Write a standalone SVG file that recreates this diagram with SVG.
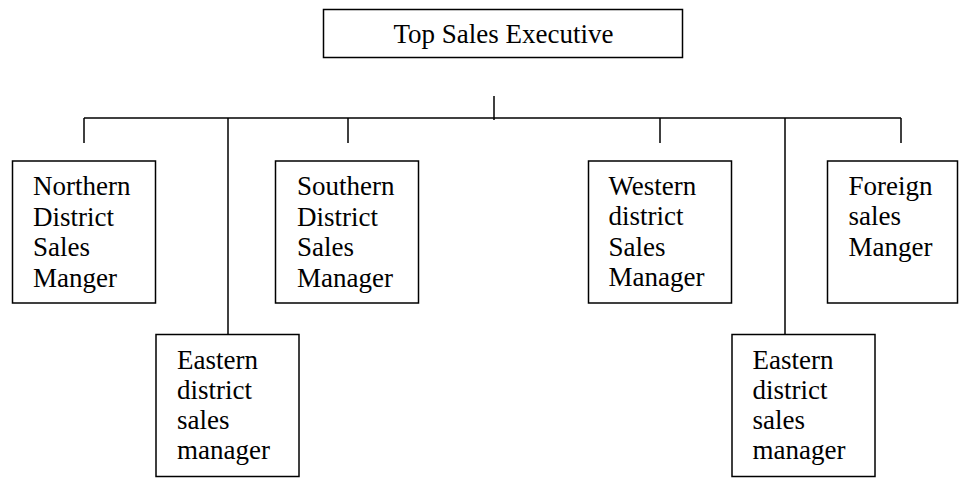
<svg xmlns="http://www.w3.org/2000/svg" width="959" height="479" viewBox="0 0 959 479">
<style>
rect.box{fill:#fff;stroke:#000;stroke-width:1.5}
#connectors line{stroke:#000;stroke-width:1.5}
text{font-family:"Liberation Serif","Times New Roman",serif;font-size:27px;fill:#000}
</style>
<rect width="959" height="479" fill="#fff"/>
<g id="connectors">
<line x1="494" y1="96" x2="494" y2="120"/>
<line x1="84" y1="118" x2="901" y2="118"/>
<line x1="84" y1="118" x2="84" y2="143"/>
<line x1="228" y1="118" x2="228" y2="335"/>
<line x1="348" y1="118" x2="348" y2="143"/>
<line x1="660" y1="118" x2="660" y2="143"/>
<line x1="785" y1="118" x2="785" y2="335"/>
<line x1="901" y1="118" x2="901" y2="143"/>
</g>
<g id="top">
<rect class="box" x="323.5" y="9.5" width="359" height="48"/>
<text x="503.5" y="43" text-anchor="middle">Top Sales Executive</text>
</g>
<g id="northern">
<rect class="box" x="12.5" y="161" width="143" height="142"/>
<text x="33" y="195">Northern</text>
<text x="33" y="225.5">District</text>
<text x="33" y="256">Sales</text>
<text x="33" y="286.5">Manger</text>
</g>
<g id="eastern1">
<rect class="box" x="156" y="334.5" width="143" height="142"/>
<text x="177" y="368.5">Eastern</text>
<text x="177" y="398.5">district</text>
<text x="177" y="428.5">sales</text>
<text x="177" y="458.5">manager</text>
</g>
<g id="southern">
<rect class="box" x="275.5" y="161" width="143" height="142"/>
<text x="297" y="195">Southern</text>
<text x="297" y="225.5">District</text>
<text x="297" y="256">Sales</text>
<text x="297" y="286.5">Manager</text>
</g>
<g id="western">
<rect class="box" x="588.5" y="161" width="143" height="142"/>
<text x="608.5" y="194.5">Western</text>
<text x="608.5" y="225">district</text>
<text x="608.5" y="255.5">Sales</text>
<text x="608.5" y="286">Manager</text>
</g>
<g id="eastern2">
<rect class="box" x="732" y="334.5" width="143" height="142"/>
<text x="752.5" y="368.5">Eastern</text>
<text x="752.5" y="398.5">district</text>
<text x="752.5" y="428.5">sales</text>
<text x="752.5" y="458.5">manager</text>
</g>
<g id="foreign">
<rect class="box" x="827.5" y="161" width="130" height="142"/>
<text x="848.5" y="194.5">Foreign</text>
<text x="848.5" y="225">sales</text>
<text x="848.5" y="255.5">Manger</text>
</g>
</svg>
